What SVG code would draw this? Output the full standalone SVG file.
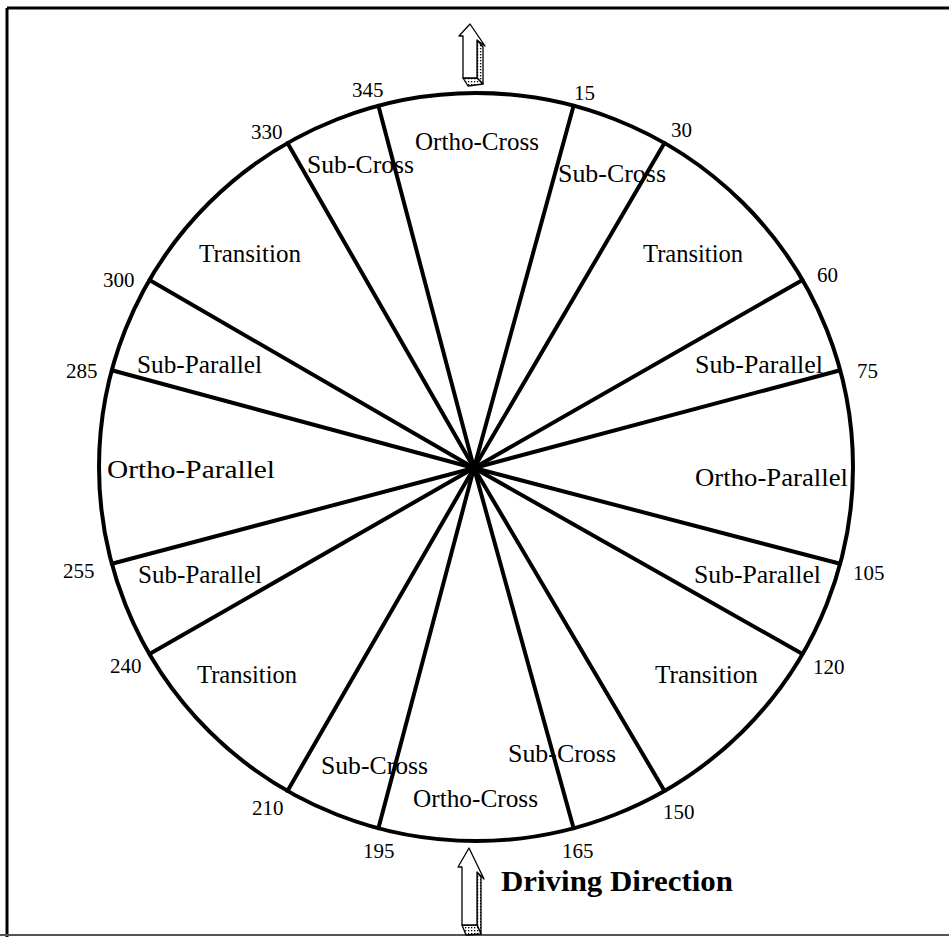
<svg xmlns="http://www.w3.org/2000/svg" width="949" height="937" viewBox="0 0 949 937">
<style>
.lbl{font-family:"Liberation Serif","Times New Roman",serif;font-size:25px;fill:#000}
.num{font-family:"Liberation Serif","Times New Roman",serif;font-size:21px;fill:#000}
.ttl{font-family:"Liberation Serif","Times New Roman",serif;font-size:30px;font-weight:bold;fill:#000}
.sp{stroke:#000;stroke-width:4;stroke-linecap:round}
.ar{fill:#fff;stroke:#000;stroke-width:1.3;stroke-linejoin:round}
.st{fill:url(#dots);stroke:#000;stroke-width:1.3;stroke-linejoin:round}
</style>
<defs>
<pattern id="dots" width="3" height="3" patternUnits="userSpaceOnUse">
<rect width="3" height="3" fill="#fff"/>
<rect x="0" y="0" width="1.3" height="1.3" fill="#000"/>
</pattern>
</defs>
<rect width="949" height="937" fill="#fff"/>
<g id="frame" fill="none" stroke="#000">
<line x1="7" y1="8" x2="949" y2="8" stroke-width="3"/>
<line x1="7" y1="8" x2="7" y2="937" stroke-width="3"/>
<line x1="0" y1="935" x2="949" y2="935" stroke-width="2" stroke="#555"/>
</g>
<g id="circle">
<ellipse cx="476" cy="467" rx="377" ry="374" fill="none" stroke="#000" stroke-width="4"/>
</g>
<g id="connectors" class="sp">
<line x1="474" y1="468" x2="573.6" y2="105.7"/>
<line x1="474" y1="468" x2="664.5" y2="143.1"/>
<line x1="474" y1="468" x2="802.5" y2="280"/>
<line x1="474" y1="468" x2="840.2" y2="370.2"/>
<line x1="474" y1="468" x2="840.2" y2="563.8"/>
<line x1="474" y1="468" x2="802.5" y2="654"/>
<line x1="474" y1="468" x2="664.5" y2="790.9"/>
<line x1="474" y1="468" x2="573.6" y2="828.3"/>
<line x1="474" y1="468" x2="378.4" y2="828.3"/>
<line x1="474" y1="468" x2="287.5" y2="790.9"/>
<line x1="474" y1="468" x2="149.5" y2="654"/>
<line x1="474" y1="468" x2="111.8" y2="563.8"/>
<line x1="474" y1="468" x2="111.8" y2="370.2"/>
<line x1="474" y1="468" x2="149.5" y2="280"/>
<line x1="474" y1="468" x2="287.5" y2="143.1"/>
<line x1="474" y1="468" x2="378.4" y2="105.7"/>
</g>
<g id="zones">
<text class="lbl" x="415" y="150" textLength="124" lengthAdjust="spacingAndGlyphs">Ortho-Cross</text>
<text class="lbl" x="307" y="173" textLength="107" lengthAdjust="spacingAndGlyphs">Sub-Cross</text>
<text class="lbl" x="558" y="182" textLength="108" lengthAdjust="spacingAndGlyphs">Sub-Cross</text>
<text class="lbl" x="199" y="262" textLength="102" lengthAdjust="spacingAndGlyphs">Transition</text>
<text class="lbl" x="643" y="262" textLength="100" lengthAdjust="spacingAndGlyphs">Transition</text>
<text class="lbl" x="137" y="373" textLength="125" lengthAdjust="spacingAndGlyphs">Sub-Parallel</text>
<text class="lbl" x="695" y="373" textLength="128" lengthAdjust="spacingAndGlyphs">Sub-Parallel</text>
<text class="lbl" x="107" y="478" textLength="168" lengthAdjust="spacingAndGlyphs">Ortho-Parallel</text>
<text class="lbl" x="695" y="486" textLength="153" lengthAdjust="spacingAndGlyphs">Ortho-Parallel</text>
<text class="lbl" x="138" y="583" textLength="124" lengthAdjust="spacingAndGlyphs">Sub-Parallel</text>
<text class="lbl" x="694" y="583" textLength="127" lengthAdjust="spacingAndGlyphs">Sub-Parallel</text>
<text class="lbl" x="197" y="683" textLength="100" lengthAdjust="spacingAndGlyphs">Transition</text>
<text class="lbl" x="655" y="683" textLength="103" lengthAdjust="spacingAndGlyphs">Transition</text>
<text class="lbl" x="321" y="774" textLength="107" lengthAdjust="spacingAndGlyphs">Sub-Cross</text>
<text class="lbl" x="508" y="762" textLength="108" lengthAdjust="spacingAndGlyphs">Sub-Cross</text>
<text class="lbl" x="413" y="807" textLength="125" lengthAdjust="spacingAndGlyphs">Ortho-Cross</text>
</g>
<g id="angles">
<text class="num" x="352" y="97">345</text>
<text class="num" x="574" y="100">15</text>
<text class="num" x="251" y="139">330</text>
<text class="num" x="671" y="137">30</text>
<text class="num" x="103" y="287">300</text>
<text class="num" x="817" y="282">60</text>
<text class="num" x="66" y="378">285</text>
<text class="num" x="857" y="378">75</text>
<text class="num" x="63" y="578">255</text>
<text class="num" x="853" y="580">105</text>
<text class="num" x="110" y="673">240</text>
<text class="num" x="813" y="674">120</text>
<text class="num" x="252" y="815">210</text>
<text class="num" x="663" y="819">150</text>
<text class="num" x="363" y="858">195</text>
<text class="num" x="562" y="858">165</text>
</g>
<g id="top-arrow">
<path class="st" d="M477,40 L483,47 L483,84 L477,78 Z"/>
<path class="st" d="M463,78 L477,78 L483,84 L468,86 Z"/>
<path class="ar" d="M470,24 L459,36 L463,36 L463,78 L477,78 L477,40 L485,46 Z"/>
</g>
<g id="bottom-arrow">
<path class="st" d="M477,872 L481,877 L481,934 L477,925 Z"/>
<path class="st" d="M462,925 L477,925 L481,934 L466,935 Z"/>
<path class="ar" d="M469,848 L458,867 L462,867 L462,925 L477,925 L477,872 L484,879 Z"/>
</g>
<g id="caption">
<text class="ttl" x="501" y="891" textLength="232" lengthAdjust="spacingAndGlyphs">Driving  Direction</text>
</g>
</svg>
